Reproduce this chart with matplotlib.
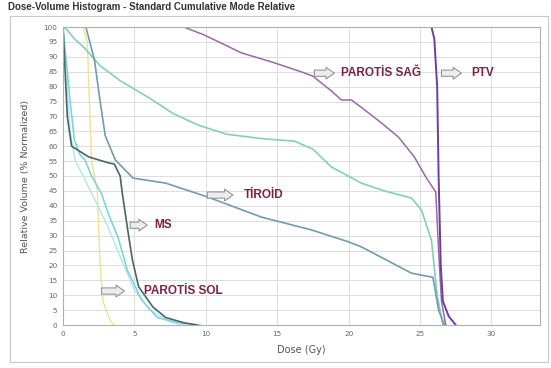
import matplotlib
matplotlib.use("Agg")
import matplotlib.pyplot as plt
from matplotlib.patches import Rectangle

# ---- data (Dose in Gy, Relative volume in %) ----
ptv_x = [0, 25.8, 26.0, 26.2, 26.3, 26.45, 26.6, 27.0, 27.5]
ptv_y = [100, 100, 96, 80, 50, 20, 8, 3, 0]

sag_x = [0, 8.45, 9.9, 10.9, 12.5, 14.6, 16.9, 17.5, 18.8, 19.5, 20.2, 20.9, 22.3, 23.5, 24.6, 25.4, 26.1, 26.3, 26.5, 26.8]
sag_y = [100, 100, 97.3, 95, 91.3, 88.3, 84.6, 83.5, 78.5, 75.5, 75.5, 73, 67.8, 63, 56.4, 49.7, 44.6, 25, 8, 0]

teal_x = [0, 0.3, 0.8, 1.5, 2.6, 4.0, 6.1, 7.7, 9.5, 11.5, 14.0, 16.2, 17.5, 18.8, 20.9, 22.5, 24.4, 25.1, 25.8, 26.2, 26.6]
teal_y = [100, 99, 96, 93, 87, 82, 76, 71, 67, 64, 62.5, 61.7, 59, 53, 47.6, 45, 42.6, 38.6, 28.5, 10, 0]

tiroid_x = [0, 1.6, 2.2, 2.6, 2.96, 3.66, 4.9, 7.2, 10.1, 13.9, 17.4, 20.0, 20.9, 24.4, 25.9, 26.3, 26.7]
tiroid_y = [100, 100, 89, 75, 63.5, 55.4, 49.3, 47.6, 43, 36.2, 31.9, 27.9, 26.2, 17.4, 16, 5, 0]

ms_x = [0, 0.15, 0.3, 0.6, 1.8, 3.2, 3.6, 4.0, 4.15, 4.5, 4.86, 5.3, 6.3, 7.2, 8.5, 9.4]
ms_y = [100, 85, 70, 60, 56.4, 54.4, 54, 50, 44.3, 32.9, 21.8, 12.8, 6, 2.5, 0.7, 0]

sol_x = [0, 0.2, 0.5, 0.8, 1.2, 1.54, 2.0, 2.7, 3.2, 3.85, 4.5, 5.5, 6.6, 8.0, 9.6]
sol_y = [100, 90, 75, 62, 57, 55.4, 50, 44, 37, 29.5, 18.5, 8.5, 2.5, 0.8, 0]

cyan2_x = [0, 0.2, 0.5, 0.84, 2.0, 3.15, 4.1, 5.0, 6.1, 7.5, 8.5]
cyan2_y = [100, 85, 65, 55.4, 44.3, 32.9, 21.8, 11.7, 5, 1, 0]

yel_x = [0, 1.4, 1.7, 2.0, 2.4, 2.6, 2.8, 3.3, 3.6]
yel_y = [100, 100, 95, 55, 45, 20, 8, 1.5, 0]

x_ticks = [0, 5, 10, 15, 20, 25, 30]
y_ticks = list(range(0, 101, 5))

labels = ["PAROTİS SAĞ", "PTV", "TİROİD", "MS", "PAROTİS SOL"]
label_y = [84.5, 84.5, 43.6, 33.5, 11.4]
arrow_x0 = [17.6, 26.5, 10.1, 4.7, 2.7]
arrow_x1 = [19.0, 27.9, 11.9, 5.9, 4.3]
text_x = [19.5, 28.6, 12.7, 6.4, 5.7]

W, H = 551, 368
fig = plt.figure(figsize=(W / 100, H / 100), dpi=100)
fig.patch.set_facecolor("white")

# panel border
fig.add_artist(Rectangle((10 / W, 6 / H), 538 / W, 346 / H, transform=fig.transFigure,
                         fill=False, ec="#c8c8c8", lw=0.8))
fig.text(8 / W, 1 - 7 / H, "Dose-Volume Histogram - Standard Cumulative Mode Relative",
         fontsize=7.0, fontweight="bold", color="#333333", family="Liberation Sans",
         va="center", ha="left")

ax = fig.add_axes([63 / W, 1 - 325 / H, (540 - 63) / W, (325 - 27) / H])
ax.set_xlim(0, 33.4)
ax.set_ylim(0, 100)
ax.set_xticks(x_ticks)
ax.set_yticks(y_ticks)
ax.set_xticklabels([str(v) for v in x_ticks])
ax.set_yticklabels([str(v) for v in y_ticks])
ax.tick_params(labelsize=5.2, colors="#666666", length=0, pad=4)
ax.grid(True, color="#dcdcdc", lw=0.7)
ax.set_axisbelow(True)
for s in ax.spines.values():
    s.set_color("#b0b0b0")
    s.set_linewidth(0.8)

ax.plot(yel_x, yel_y, color="#eee48e", lw=1.0)
ax.plot(cyan2_x, cyan2_y, color="#aee6ee", lw=1.0)
ax.plot(sol_x, sol_y, color="#74d4d8", lw=1.1)
ax.plot(teal_x, teal_y, color="#86cfb6", lw=1.2)
ax.plot(tiroid_x, tiroid_y, color="#6f9db0", lw=1.2)
ax.plot(ms_x, ms_y, color="#4d6466", lw=1.2)
ax.plot(sag_x, sag_y, color="#9a6aa8", lw=1.1)
ax.plot(ptv_x, ptv_y, color="#6a3f9e", lw=1.4)

ax.set_xlabel("Dose (Gy)", fontsize=7, color="#555555", labelpad=6)
ax.set_ylabel("Relative Volume (% Normalized)", fontsize=6.8, color="#555555", labelpad=10)

for lab, ly, a0, a1, tx in zip(labels, label_y, arrow_x0, arrow_x1, text_x):
    ax.annotate("", xy=(a1, ly), xytext=(a0, ly),
                arrowprops=dict(arrowstyle="simple,head_width=0.85,head_length=0.6,tail_width=0.45",
                                fc="#ececec", ec="#8a8a8a", lw=0.7,
                                shrinkA=0, shrinkB=0))
    ax.text(tx, ly, lab, fontsize=8.5, fontweight="bold", color="#7a2148",
            family="Liberation Sans", va="center", ha="left")

fig.savefig("out.png", dpi=100)
